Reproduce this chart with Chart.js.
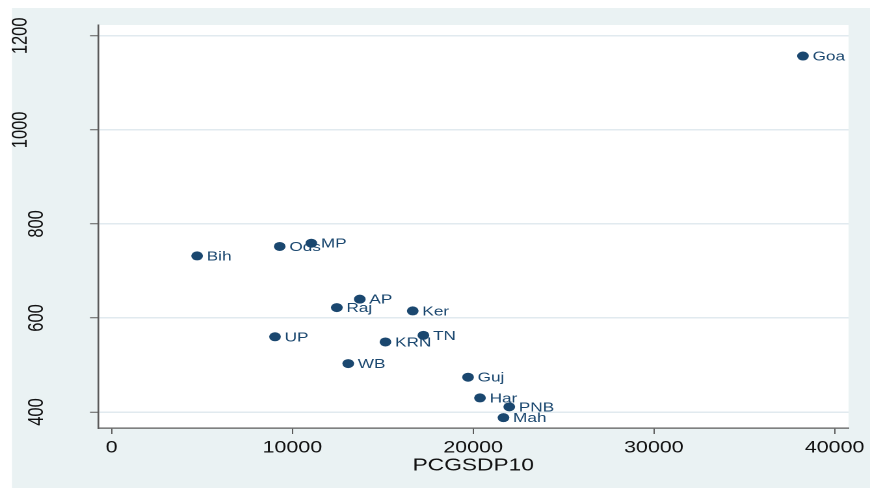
<!DOCTYPE html>
<html>
<head>
<meta charset="utf-8">
<script src="https://cdn.jsdelivr.net/npm/chart.js@4.4.1/dist/chart.umd.min.js"></script>
<style>
  html, body { margin: 0; padding: 0; background: #ffffff; overflow: hidden; }
  #c { display: block; width: 870px !important; height: 488px !important; }
</style>
</head>
<body>
<canvas id="c" width="669" height="488" style="width:870px;height:488px;"></canvas>
<script>
// ---- data ----
const states = ["Goa", "Bih", "Ods", "MP", "AP", "Raj", "Ker", "UP", "KRN", "TN", "WB", "Guj", "Har", "PNB", "Mah"];
const pcgsdp10 = [38250, 4730, 9300, 11050, 13730, 12460, 16660, 9040, 15150, 17250, 13090, 19720, 20380, 22000, 21680];
const yValues = [1157, 732, 752, 759, 640, 622, 615, 560, 549, 563, 503, 474, 430, 411, 388];
const xTicks = [0, 10000, 20000, 30000, 40000];
const yTicks = [400, 600, 800, 1000, 1200];
const xTitle = "PCGSDP10";

// ---- style ----
const NAVY = '#1a476f';
const OUTER = '#eaf2f3';
const AXIS = '#5a5a5a';
const GRID = '#e1eaef';
const FONT = '"Liberation Sans", Arial, Helvetica, sans-serif';

const points = pcgsdp10.map((x, i) => ({ x: x, y: yValues[i] }));

const bgPlugin = {
  id: 'stataBg',
  beforeDraw(chart) {
    const ctx = chart.ctx, a = chart.chartArea;
    ctx.save();
    ctx.fillStyle = '#ffffff';
    ctx.fillRect(0, 0, chart.width, chart.height);
    ctx.fillStyle = OUTER;
    ctx.fillRect(9.2, 8, chart.width - 9.2, chart.height - 8);
    ctx.fillStyle = '#ffffff';
    ctx.fillRect(a.left, a.top, a.right - a.left, a.bottom - a.top);
    ctx.restore();
  }
};

const yLabelPlugin = {
  id: 'yRotLabels',
  afterDraw(chart) {
    const ctx = chart.ctx, ys = chart.scales.y, a = chart.chartArea;
    ctx.save();
    ctx.font = '16.5px ' + FONT;
    ctx.fillStyle = '#111111';
    ctx.textAlign = 'center';
    ctx.textBaseline = 'middle';
    ys.ticks.forEach(t => {
      const label = String(t.value);
      const py = ys.getPixelForValue(t.value);
      const px = a.left - (10 + 12.3 * label.length);
      ctx.save();
      ctx.translate(px, py);
      ctx.rotate(-Math.PI / 2);
      ctx.fillText(label, 0, 0);
      ctx.restore();
    });
    ctx.restore();
  }
};

const pointLabelPlugin = {
  id: 'pointLabels',
  afterDatasetsDraw(chart) {
    const ctx = chart.ctx;
    const meta = chart.getDatasetMeta(0);
    ctx.save();
    ctx.font = '13.2px ' + FONT;
    ctx.fillStyle = NAVY;
    ctx.textAlign = 'left';
    ctx.textBaseline = 'middle';
    meta.data.forEach((el, i) => {
      ctx.fillText(states[i], el.x + 7.4, el.y + 0.9);
    });
    ctx.restore();
  }
};

new Chart(document.getElementById('c'), {
  type: 'scatter',
  data: {
    datasets: [{
      data: points,
      backgroundColor: NAVY,
      borderColor: NAVY,
      borderWidth: 0,
      pointRadius: 4.5,
      pointHoverRadius: 4.5,
      pointStyle: 'circle'
    }]
  },
  options: {
    responsive: false,
    devicePixelRatio: 2,
    animation: false,
    events: [],
    layout: { padding: { left: 9.2, right: 15.3, top: 25, bottom: 0 } },
    plugins: {
      legend: { display: false },
      tooltip: { enabled: false },
      title: { display: false }
    },
    scales: {
      x: {
        type: 'linear',
        position: 'bottom',
        min: -750,
        max: 40770,
        afterBuildTicks(scale) { scale.ticks = xTicks.map(v => ({ value: v })); },
        afterFit(scale) { scale.height = 60; },
        border: { display: true, color: AXIS, width: 1.3 },
        grid: { drawOnChartArea: false, drawTicks: true, tickLength: 6, tickColor: AXIS, tickWidth: 1 },
        ticks: {
          color: '#111111',
          font: { family: FONT, size: 16.5 },
          padding: 4,
          maxRotation: 0,
          minRotation: 0,
          callback: v => String(v)
        },
        title: {
          display: true,
          text: xTitle,
          color: '#111111',
          font: { family: FONT, size: 17.5 },
          padding: { top: 0, bottom: 12 }
        }
      },
      y: {
        type: 'linear',
        position: 'left',
        min: 366,
        max: 1223,
        afterBuildTicks(scale) { scale.ticks = yTicks.map(v => ({ value: v })); },
        afterFit(scale) { scale.width = 66.2; },
        border: { display: true, color: AXIS, width: 1.3 },
        grid: { drawOnChartArea: true, color: GRID, lineWidth: 1.5, drawTicks: true, tickLength: 6.2, tickColor: AXIS, tickWidth: 1 },
        ticks: { display: false }
      }
    }
  },
  plugins: [bgPlugin, yLabelPlugin, pointLabelPlugin]
});
</script>
</body>
</html>
